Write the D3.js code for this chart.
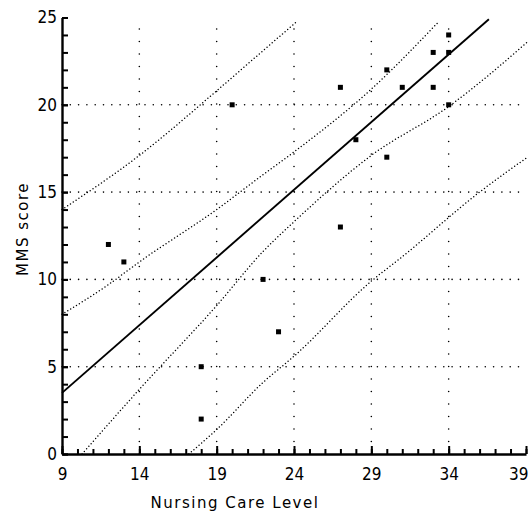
<!DOCTYPE html>
<html>
<head>
<meta charset="utf-8">
<script src="https://cdn.jsdelivr.net/npm/d3@7"></script>
<style>
    body { margin: 0; background: #fff; }
    svg { display: block; }
    .tick text { font-family: "DejaVu Sans Condensed", "DejaVu Sans", sans-serif; font-size: 17px; fill: #000; }
    .title { font-family: "DejaVu Sans", sans-serif; font-size: 15px; letter-spacing: 1.5px; fill: #000; }
</style>
</head>
<body>
<div id="chart"></div>
<script>

// observed patients
var careLevel = [12, 13, 18, 18, 20, 22, 23, 27, 27, 28, 30, 30, 31, 33, 33, 34, 34, 34];
var mmsScore  = [12, 11,  5,  2, 20, 10,  7, 21, 13, 18, 22, 17, 21, 23, 21, 24, 23, 20];

// regression line
var fitX = [9, 36.6];
var fitY = [3.5, 24.9];

// confidence band for the line
var confUpperX = [9, 12, 14, 19, 22, 24, 29, 33.4];
var confUpperY = [8.0, 9.7, 11.0, 14.0, 16.0, 17.3, 20.9, 24.8];
var confLowerX = [10.3, 14, 19, 22, 24, 29, 34, 39.1];
var confLowerY = [0, 3.7, 8.5, 11.6, 13.3, 17.1, 19.9, 23.6];

// prediction band
var predUpperX = [9, 14, 19, 22, 24.1];
var predUpperY = [14.0, 17.1, 20.8, 23.1, 24.7];
var predLowerX = [17.2, 19, 22, 24, 29, 31, 36, 39.1];
var predLowerY = [0, 1.4, 4.1, 5.6, 9.9, 11.3, 15.0, 17.0];

// axes
var xMajor = [9, 14, 19, 24, 29, 34, 39];
var yMajor = [0, 5, 10, 15, 20, 25];
var xGrid = [14, 19, 24, 29, 34];
var yGrid = [5, 10, 15, 20];

var width = 528, height = 517;

var x = d3.scaleLinear().domain([9, 39]).range([62, 526]);
var y = d3.scaleLinear().domain([0, 25]).range([454, 17.5]);

var svg = d3.select("#chart")
    .append("svg")
    .attr("width", width)
    .attr("height", height);

var zip = function (xs, ys) {
    return xs.map(function (d, i) {
        return [d, ys[i]];
    });
};

// grid
svg.append("g")
    .selectAll("line")
    .data(xGrid)
    .enter()
    .append("line")
    .attr("x1", function (d) { return x(d); })
    .attr("x2", function (d) { return x(d); })
    .attr("y1", y(0))
    .attr("y2", y(24.5))
    .attr("stroke", "#000")
    .attr("stroke-width", 1.6)
    .attr("stroke-linecap", "round")
    .attr("stroke-dasharray", "0,12.5");

svg.append("g")
    .selectAll("line")
    .data(yGrid)
    .enter()
    .append("line")
    .attr("x1", x(9))
    .attr("x2", x(38.8))
    .attr("y1", function (d) { return y(d); })
    .attr("y2", function (d) { return y(d); })
    .attr("stroke", "#000")
    .attr("stroke-width", 1.6)
    .attr("stroke-linecap", "round")
    .attr("stroke-dasharray", "0,8.3");

// bands
var line = d3.line()
    .x(function (d) { return x(d[0]); })
    .y(function (d) { return y(d[1]); })
    .curve(d3.curveMonotoneX);

var bands = [
    zip(confUpperX, confUpperY),
    zip(confLowerX, confLowerY),
    zip(predUpperX, predUpperY),
    zip(predLowerX, predLowerY)
];

svg.append("g")
    .selectAll("path")
    .data(bands)
    .enter()
    .append("path")
    .attr("d", line)
    .attr("fill", "none")
    .attr("stroke", "#000")
    .attr("stroke-width", 1.5)
    .attr("stroke-linecap", "round")
    .attr("stroke-dasharray", "0,3.4");

// fitted line
svg.append("path")
    .datum(zip(fitX, fitY))
    .attr("d", line)
    .attr("fill", "none")
    .attr("stroke", "#000")
    .attr("stroke-width", 1.9);

// points
svg.append("g")
    .selectAll("rect")
    .data(zip(careLevel, mmsScore))
    .enter()
    .append("rect")
    .attr("x", function (d) { return x(d[0]) - 2.5; })
    .attr("y", function (d) { return y(d[1]) - 2.5; })
    .attr("width", 5)
    .attr("height", 5)
    .attr("fill", "#000");

// x axis: minor then major ticks, pointing inward
var xMinor = d3.range(9, 40);
svg.append("g")
    .attr("class", "x-minor")
    .attr("transform", "translate(0," + y(0) + ")")
    .call(d3.axisBottom(x).tickValues(xMinor).tickSizeInner(-5).tickSizeOuter(0).tickFormat(function () { return ""; }))
    .call(function (g) {
        g.selectAll(".tick line").attr("stroke", "#000").attr("stroke-width", 2);
        g.select(".domain").remove();
    });

svg.append("g")
    .attr("class", "x-major")
    .attr("transform", "translate(0," + y(0) + ")")
    .call(d3.axisBottom(x).tickValues(xMajor).tickSizeInner(-8).tickSizeOuter(0).tickPadding(0))
    .call(function (g) {
        g.select(".domain").attr("stroke", "#000").attr("stroke-width", 2.4);
        g.selectAll(".tick line").attr("stroke", "#000").attr("stroke-width", 2);
        g.selectAll(".tick text").attr("dy", "1.55em").attr("y", 0);
        // last label is pulled in so it stays on the page
        g.selectAll(".tick text")
            .filter(function (d) { return d === 39; })
            .attr("text-anchor", "end")
            .attr("dx", 2);
    });

// y axis
var yMinor = d3.range(0, 26);
svg.append("g")
    .attr("class", "y-minor")
    .attr("transform", "translate(" + x(9) + ",0)")
    .call(d3.axisLeft(y).tickValues(yMinor).tickSizeInner(-6).tickSizeOuter(0).tickFormat(function () { return ""; }))
    .call(function (g) {
        g.selectAll(".tick line").attr("stroke", "#000").attr("stroke-width", 2);
        g.select(".domain").remove();
    });

svg.append("g")
    .attr("class", "y-major")
    .attr("transform", "translate(" + x(9) + ",0)")
    .call(d3.axisLeft(y).tickValues(yMajor).tickSizeInner(-6).tickSizeOuter(0).tickPadding(5))
    .call(function (g) {
        g.select(".domain").attr("stroke", "#000").attr("stroke-width", 2.4);
        g.selectAll(".tick line").attr("stroke", "#000").attr("stroke-width", 2);
    });

// titles
svg.append("text")
    .attr("class", "title")
    .attr("x", 235)
    .attr("y", 508)
    .attr("text-anchor", "middle")
    .text("Nursing Care Level");

svg.append("text")
    .attr("class", "title")
    .attr("transform", "translate(28,229) rotate(-90)")
    .attr("text-anchor", "middle")
    .text("MMS score");

</script>
</body>
</html>
